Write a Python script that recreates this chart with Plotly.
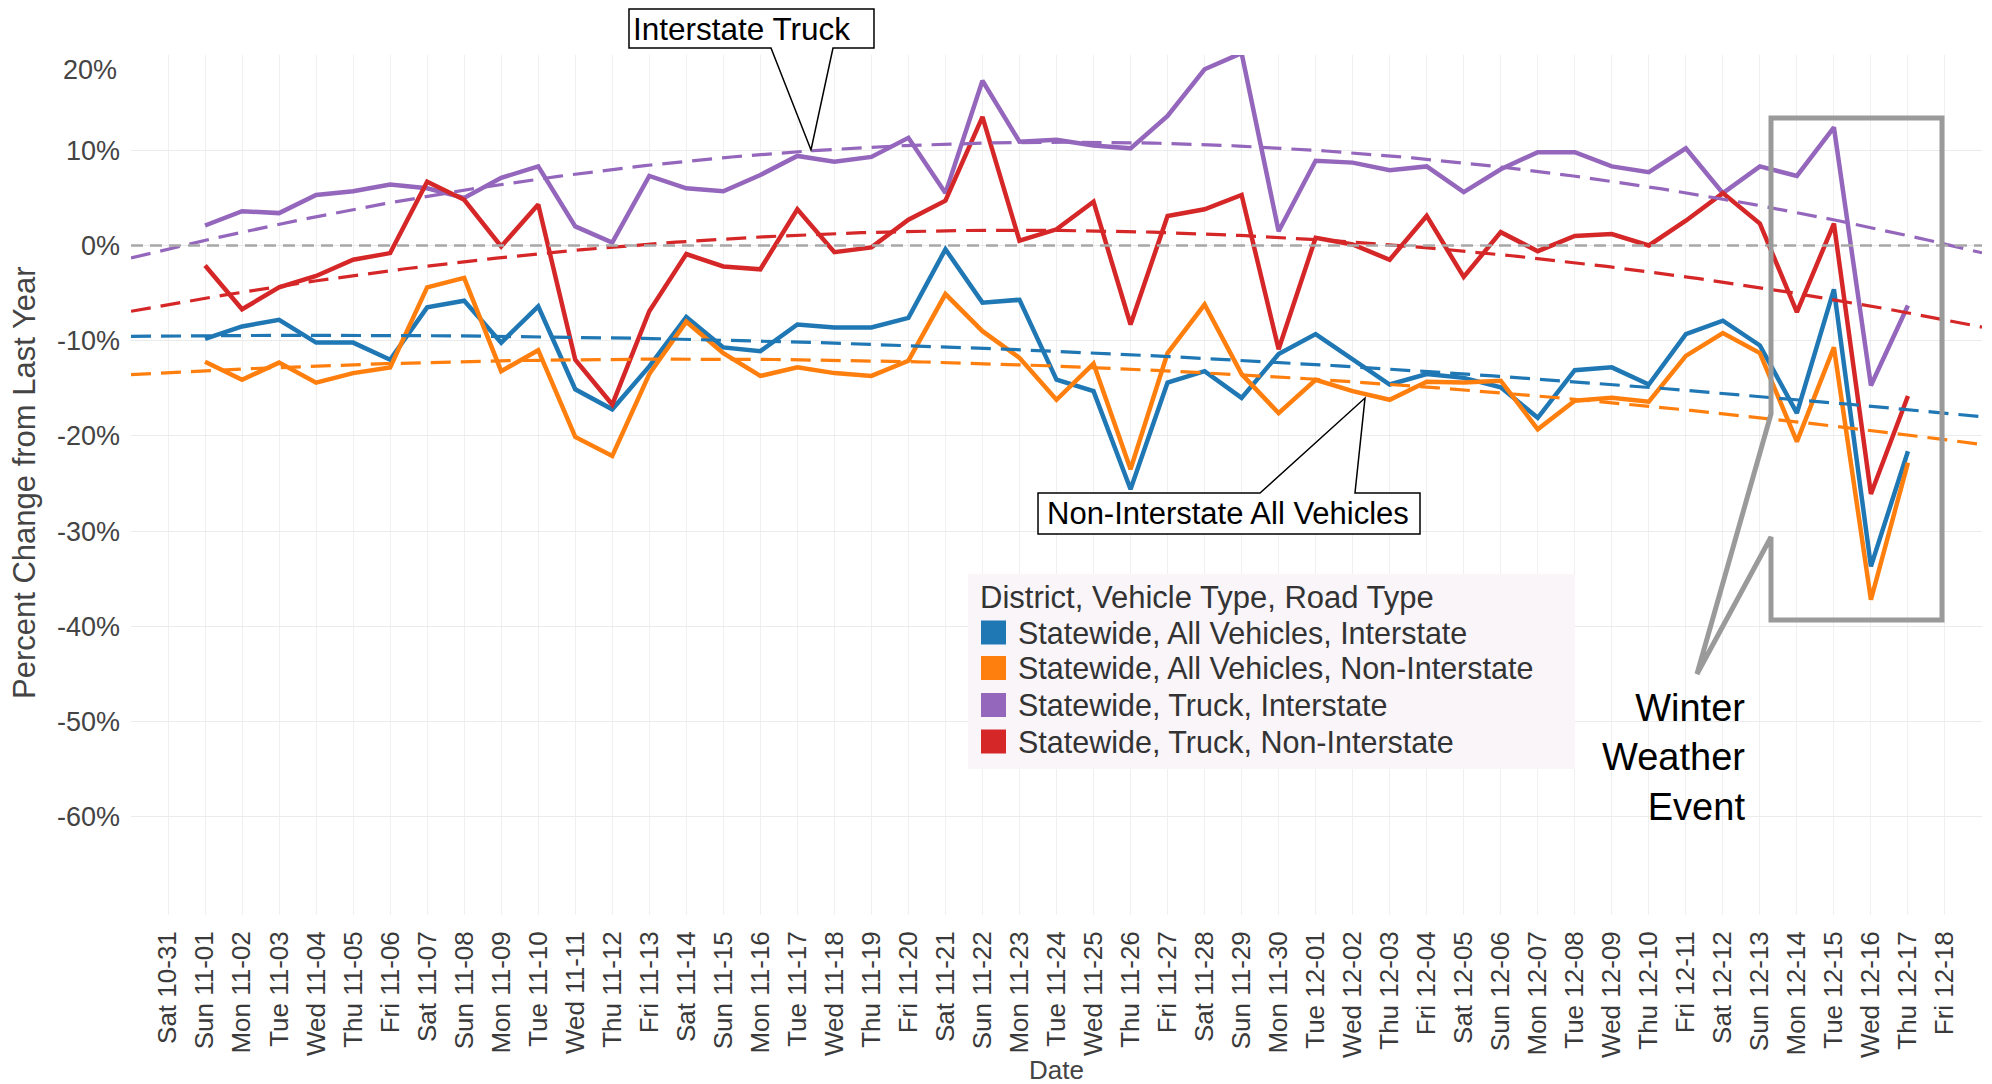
import numpy as np
import plotly.graph_objects as go

# ---------------- data ----------------
dates = ["Sat 10-31", "Sun 11-01", "Mon 11-02", "Tue 11-03", "Wed 11-04", "Thu 11-05", "Fri 11-06",
         "Sat 11-07", "Sun 11-08", "Mon 11-09", "Tue 11-10", "Wed 11-11", "Thu 11-12", "Fri 11-13",
         "Sat 11-14", "Sun 11-15", "Mon 11-16", "Tue 11-17", "Wed 11-18", "Thu 11-19", "Fri 11-20",
         "Sat 11-21", "Sun 11-22", "Mon 11-23", "Tue 11-24", "Wed 11-25", "Thu 11-26", "Fri 11-27",
         "Sat 11-28", "Sun 11-29", "Mon 11-30", "Tue 12-01", "Wed 12-02", "Thu 12-03", "Fri 12-04",
         "Sat 12-05", "Sun 12-06", "Mon 12-07", "Tue 12-08", "Wed 12-09", "Thu 12-10", "Fri 12-11",
         "Sat 12-12", "Sun 12-13", "Mon 12-14", "Tue 12-15", "Wed 12-16", "Thu 12-17", "Fri 12-18"]

data_dates = dates[1:48]  # Sun 11-01 .. Thu 12-17

all_interstate = [-9.8, -8.5, -7.8, -10.2, -10.2, -12.0, -6.5, -5.8, -10.2, -6.4, -15.1, -17.2, -12.7,
                  -7.5, -10.7, -11.1, -8.3, -8.6, -8.6, -7.6, -0.4, -6.0, -5.7, -14.1, -15.3, -25.6,
                  -14.4, -13.2, -16.0, -11.4, -9.3, -12.0, -14.6, -13.5, -13.9, -14.9, -18.1, -13.1,
                  -12.8, -14.6, -9.3, -7.9, -10.5, -17.6, -4.6, -33.7, -21.6]
all_noninterstate = [-12.2, -14.1, -12.3, -14.4, -13.4, -12.8, -4.4, -3.4, -13.2, -11.0, -20.1, -22.1,
                     -13.5, -8.0, -11.3, -13.7, -12.8, -13.4, -13.7, -12.1, -5.1, -9.0, -11.8, -16.2,
                     -12.4, -23.5, -11.3, -6.2, -13.5, -17.6, -14.1, -15.3, -16.2, -14.3, -14.4, -14.2,
                     -19.3, -16.3, -16.0, -16.4, -11.6, -9.2, -11.3, -20.6, -10.7, -37.2, -22.8]
truck_interstate = [2.1, 3.6, 3.4, 5.3, 5.7, 6.4, 6.0, 5.0, 7.1, 8.3, 2.0, 0.3, 7.3, 6.0, 5.7, 7.4, 9.4,
                    8.8, 9.3, 11.3, 5.5, 17.3, 10.9, 11.1, 10.5, 10.2, 13.6, 18.5, 20.2, 1.5, 8.9, 8.7,
                    7.9, 8.3, 5.6, 8.0, 9.8, 9.8, 8.3, 7.7, 10.2, 5.5, 8.3, 7.3, 12.4, -14.7, -6.3]
truck_noninterstate = [-2.1, -6.7, -4.4, -3.2, -1.5, -0.8, 6.7, 4.8, -0.1, 4.3, -12.0, -16.7, -6.9,
                       -0.9, -2.2, -2.5, 3.8, -0.7, -0.2, 2.7, 4.7, 13.5, 0.5, 1.7, 4.6, -8.3, 3.1, 3.8,
                       5.3, -10.9, 0.8, 0.1, -1.5, 3.1, -3.3, 1.4, -0.6, 1.0, 1.2, 0.0, 2.6, 5.5, 2.3,
                       -7.0, 2.3, -26.1, -15.8]

series_names = ["Statewide, All Vehicles, Interstate",
                "Statewide, All Vehicles, Non-Interstate",
                "Statewide, Truck, Interstate",
                "Statewide, Truck, Non-Interstate"]
series_values = [all_interstate, all_noninterstate, truck_interstate, truck_noninterstate]
series_colors = ["#1f77b4", "#ff7f0e", "#9467bd", "#d62728"]

y_tick_vals = [-60, -50, -40, -30, -20, -10, 0, 10, 20]
y_tick_text = ["-60%", "-50%", "-40%", "-30%", "-20%", "-10%", "0%", "10%", ""]

FONT = "Liberation Sans, Arial, sans-serif"

# ---------------- geometry helpers (pixel -> paper) ----------------
W, H = 1992, 1084
PL, PR, PT, PB = 131, 1982, 55, 915


def pxx(x):
    return (x - PL) / (PR - PL)


def pxy(y):
    return (PB - y) / (PB - PT)


def path(points):
    s = "M {:.5f},{:.5f}".format(pxx(points[0][0]), pxy(points[0][1]))
    for p in points[1:]:
        s += " L {:.5f},{:.5f}".format(pxx(p[0]), pxy(p[1]))
    return s + " Z"


x_idx = [dates.index(d) for d in data_dates]
x_fit = np.linspace(-1, len(dates), 300)

fig = go.Figure()

for name, vals, col in zip(series_names, series_values, series_colors):
    fig.add_trace(go.Scatter(x=x_idx, y=vals, mode="lines", name=name,
                             line=dict(color=col, width=4.5), showlegend=False))

for vals, col in zip(series_values, series_colors):
    coef = np.polyfit(x_idx, vals, 2)
    fig.add_trace(go.Scatter(x=x_fit, y=np.polyval(coef, x_fit), mode="lines",
                             line=dict(color=col, width=3.2, dash="20px,10px"),
                             showlegend=False, hoverinfo="skip"))

shapes = []
# zero reference line
shapes.append(dict(type="line", xref="paper", yref="y", x0=0, x1=1, y0=0, y1=0,
                   line=dict(color="#a8a8a8", width=2.5, dash="12px,7px"), layer="above"))

# legend box
shapes.append(dict(type="rect", xref="paper", yref="paper",
                   x0=pxx(968), x1=pxx(1575), y0=pxy(769), y1=pxy(574),
                   fillcolor="#f9f5f9", line=dict(width=0), layer="above"))
legend_y = [632.5, 668, 705, 741.5]
for col, ly in zip(series_colors, legend_y):
    shapes.append(dict(type="rect", xref="paper", yref="paper",
                       x0=pxx(981), x1=pxx(1006), y0=pxy(ly + 12), y1=pxy(ly - 12),
                       fillcolor=col, line=dict(width=0), layer="above"))

# callouts
shapes.append(dict(type="path", xref="paper", yref="paper",
                   path=path([(629, 9), (874, 9), (874, 48), (833, 48), (811, 150), (771, 48), (629, 48)]),
                   fillcolor="white", line=dict(color="black", width=1.5), layer="above"))
shapes.append(dict(type="path", xref="paper", yref="paper",
                   path=path([(1038, 493), (1260, 493), (1365, 398), (1355, 493), (1420, 493),
                              (1420, 534), (1038, 534)]),
                   fillcolor="white", line=dict(color="black", width=1.5), layer="above"))
shapes.append(dict(type="path", xref="paper", yref="paper",
                   path=path([(1771, 414), (1771, 118), (1942, 118), (1942, 620), (1771, 620),
                              (1771, 537), (1697, 674)]),
                   line=dict(color="#9a9a9a", width=5), layer="above"))

ann = []


def add_text(text, x, y, size, color="black", xanchor="center", yanchor="middle", align="center", angle=0):
    ann.append(dict(text=text, x=pxx(x), y=pxy(y), xref="paper", yref="paper", showarrow=False,
                    xanchor=xanchor, yanchor=yanchor, align=align, textangle=angle,
                    font=dict(family=FONT, size=size, color=color)))


add_text("District, Vehicle Type, Road Type", 978, 597, 31, "#333333", xanchor="left")
for name, ly in zip(series_names, legend_y):
    add_text(name, 1016, ly, 30.5, "#333333", xanchor="left")

add_text("Interstate Truck", 741, 28.5, 31.5)
add_text("Non-Interstate All Vehicles", 1228, 513.5, 31)
add_text("Winter<br>Weather<br>Event", 1747, 757, 38, xanchor="right", align="right")
add_text("Date", 1056, 1070, 26, "#444444")
add_text("Percent Change from Last Year", 25, 483, 31, "#444444", angle=-90)
add_text("20%", 119, 70, 27, "#444444", xanchor="right")

fig.update_layout(
    width=W, height=H,
    margin=dict(l=PL, r=W - PR, t=PT, b=H - PB),
    paper_bgcolor="white", plot_bgcolor="white",
    font=dict(family=FONT, color="#444444"),
    showlegend=False,
    shapes=shapes, annotations=ann,
    xaxis=dict(range=[-1, len(dates)], tickmode="array", tickvals=list(range(len(dates))),
               ticktext=dates, tickangle=-90, tickfont=dict(size=26, color="#3a3a3a"),
               showgrid=True, gridcolor="#f0f0f0", gridwidth=1, zeroline=False, showline=False,
               ticks="", ticklabelstandoff=10),
    yaxis=dict(range=[-70.3, 20], tickmode="array", tickvals=y_tick_vals, ticktext=y_tick_text,
               tickfont=dict(size=27, color="#444444"), showgrid=True, gridcolor="#ebebeb",
               gridwidth=1, zeroline=False, showline=False, ticks="", ticklabelstandoff=10),
)

fig.write_html("out.html", config={"displayModeBar": False},
               post_script="document.body.style.margin='0';document.body.style.overflow='hidden';")
